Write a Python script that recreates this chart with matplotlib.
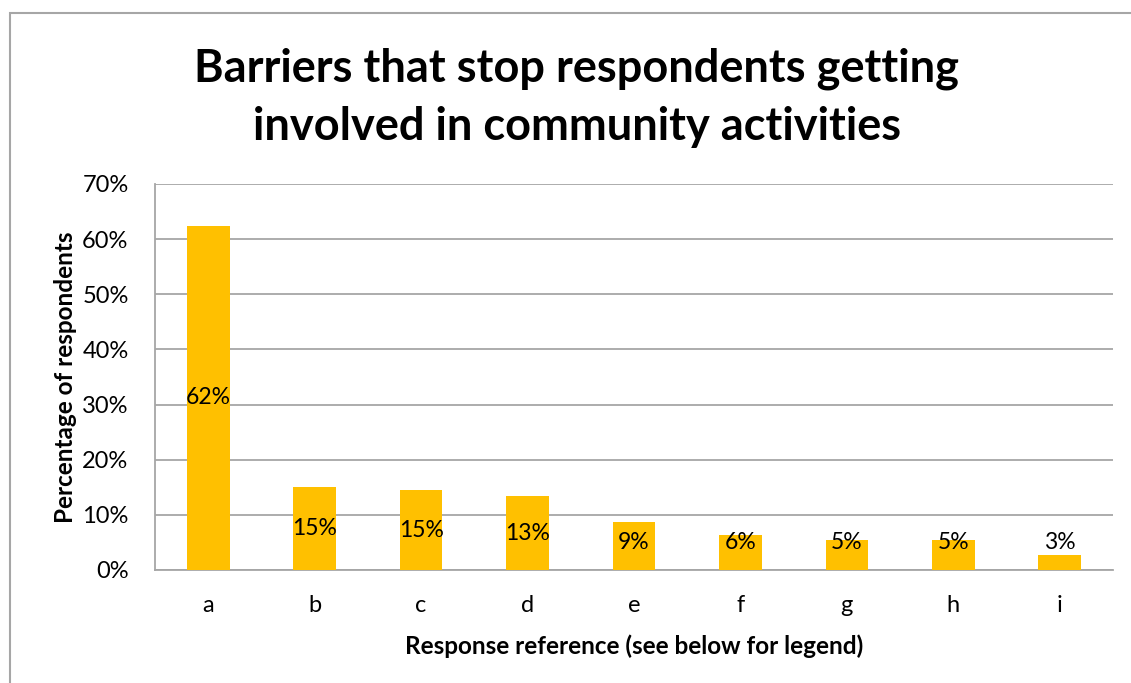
import matplotlib.pyplot as plt
from matplotlib.patches import Rectangle

categories = ['a', 'b', 'c', 'd', 'e', 'f', 'g', 'h', 'i']
values = [62.4, 15.0, 14.5, 13.4, 8.7, 6.4, 5.4, 5.4, 2.7]
labels = ['62%', '15%', '15%', '13%', '9%', '6%', '5%', '5%', '3%']
yticks = [0, 10, 20, 30, 40, 50, 60, 70]

plt.rcParams['font.family'] = ['Lato', 'DejaVu Sans']

fig = plt.figure(figsize=(11.31, 6.83), dpi=100)
ax = fig.add_axes([155 / 1131, 113 / 683, 958 / 1131, 386 / 683])

x = range(len(categories))
ax.bar(x, values, width=0.4, color='#FFC000', zorder=3)
for i, (v, lab) in enumerate(zip(values, labels)):
    ax.text(i, max(v / 2, 4.9), lab, ha='center', va='center', fontsize=16.5, zorder=4)

ax.set_xlim(-0.5, len(categories) - 0.5)
ax.set_ylim(0, 70)
ax.set_yticks(yticks)
ax.set_yticklabels([f'{t}%' for t in yticks], fontsize=17)
ax.set_xticks(list(x))
ax.set_xticklabels(categories, fontsize=17)
ax.tick_params(axis='both', length=0)
ax.tick_params(axis='y', pad=19)
ax.tick_params(axis='x', pad=18)
ax.grid(axis='y', color='#A6A6A6', linewidth=1.3, zorder=0)
for s in ['top', 'right']:
    ax.spines[s].set_visible(False)
for s in ['left', 'bottom']:
    ax.spines[s].set_color('#A6A6A6')
    ax.spines[s].set_linewidth(1.3)

ax.set_ylabel('Percentage of respondents', fontsize=17.5, fontweight='bold', labelpad=4)
ax.set_xlabel('Response reference (see below for legend)', fontsize=17.5, fontweight='bold', labelpad=13)

fig.text(577 / 1131, 1 - 98 / 683, 'Barriers that stop respondents getting\ninvolved in community activities',
         ha='center', va='center', fontsize=32.5, fontweight='bold', linespacing=1.48)

fig.patches.append(Rectangle((10 / 1131, -0.1), 2, 1.1 - 13 / 683, transform=fig.transFigure,
                             fill=False, edgecolor='#A6A6A6', linewidth=1.5))

fig.savefig('out.png', dpi=100)
